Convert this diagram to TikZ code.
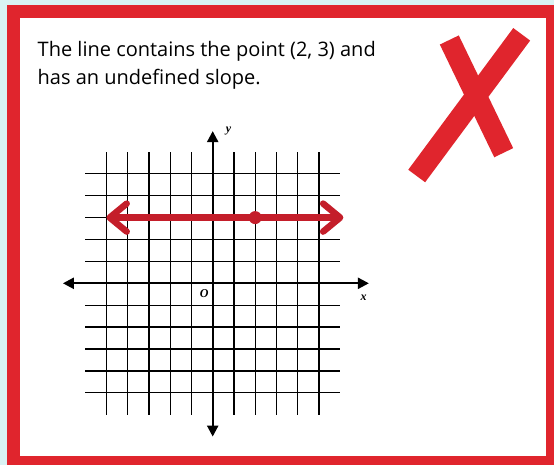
\documentclass[tikz,border=0pt]{standalone}
\usepackage{fontspec}
\setmainfont{Open Sans}
\newfontfamily\labelfont{Liberation Serif}
\usetikzlibrary{arrows.meta,positioning}

\definecolor{bgcyan}{HTML}{D9F2F3}
\definecolor{markred}{HTML}{E0252D}
\definecolor{penred}{HTML}{C41E2A}

\begin{document}
\begin{tikzpicture}[
        x=1pt, y=-1pt,
        statement/.style = {anchor=north west, align=left, inner sep=0pt, font=\fontsize{20}{28.3}\selectfont},
        crossstroke/.style = {draw=markred, line width=21pt, line cap=butt},
        gridline/.style = {draw=black, line width=1.3pt},
        axisline/.style = {draw=black, line width=2.2pt, {Triangle[length=11pt,width=11pt]}-{Triangle[length=11pt,width=11pt]}},
        axislabel/.style = {inner sep=0pt, font=\labelfont\bfseries\itshape\fontsize{12}{12}\selectfont},
        penline/.style = {draw=penred, line width=6.5pt, line cap=round, {Straight Barb[length=17pt,width=28pt,round]}-{Straight Barb[length=17pt,width=28pt,round]}},
        pointdot/.style = {circle, fill=penred, minimum size=13pt, inner sep=0pt}
    ]
    % Fondo y marco
    \useasboundingbox (0,0) rectangle (554,465);
    \clip (0,0) rectangle (554,465);
    \fill[bgcyan] (0,0) rectangle (554,465);
    \draw[markred, line width=13pt, fill=white] (13.5,11.5) rectangle (552.5,462.5);

    % Enunciado
    \node[statement] (claim) at (37.5,41) {The line contains the point (2, 3) and\\has an undefined slope.};

    % Cruz roja
    \coordinate (crossA1) at (449.3,40);
    \coordinate (crossA2) at (503.7,152.7);
    \coordinate (crossB1) at (521.7,34.3);
    \coordinate (crossB2) at (416.7,176);
    \draw[crossstroke] (crossA1) -- (crossA2);
    \draw[crossstroke] (crossB1) -- (crossB2);

    % Plano cartesiano
    \begin{scope}[shift={(212.7pt,-283.3pt)}, x=21.25pt, y=21.9pt]
        \foreach \k in {-5,...,-1,1,2,...,5} {
            \draw[gridline] (\k,-6) -- (\k,6);
            \draw[gridline] (-6,\k) -- (6,\k);
        }
        \coordinate (xleft) at (-7.05,0);
        \coordinate (xright) at (7.35,0);
        \coordinate (ydown) at (0,-7);
        \coordinate (yup) at (0,6.95);
        \draw[axisline] (xleft) -- (xright);
        \draw[axisline] (ydown) -- (yup);
        \node[axislabel] (xlabel) at (7.1,-0.68) {x};
        \node[axislabel] (ylabel) at (0.75,6.93) {y};
        \node[axislabel] (origin) at (-0.4,-0.46) {O};

        % Recta y = 3
        \coordinate (lineleft) at (-5,3);
        \coordinate (lineright) at (6.15,3);
        \draw[penline] (lineleft) -- (lineright);
        \node[pointdot] (point) at (2,3) {};
    \end{scope}
\end{tikzpicture}
\end{document}
